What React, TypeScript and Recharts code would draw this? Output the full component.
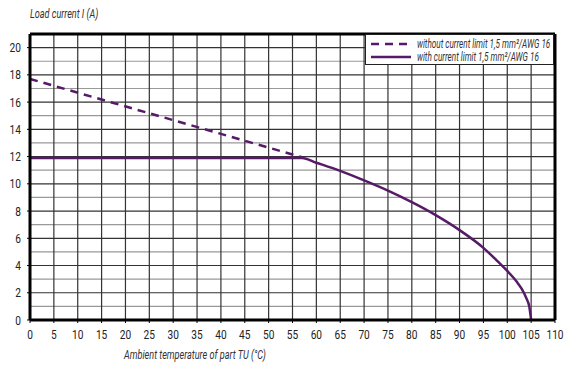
import { LineChart, Line, XAxis, YAxis, ReferenceLine } from 'recharts';

const temps = [0, 5, 10, 15, 20, 25, 30, 35, 40, 45, 50, 55, 57, 60, 65, 70, 75, 80, 85, 90, 95, 98, 100, 102, 103, 104, 104.6, 105];
const withLimit = [11.9, 11.9, 11.9, 11.9, 11.9, 11.9, 11.9, 11.9, 11.9, 11.9, 11.9, 11.9, 11.9, 11.55, 10.95, 10.25, 9.5, 8.65, 7.7, 6.6, 5.3, 4.3, 3.6, 2.8, 2.3, 1.6, 1.0, 0];
// dashed line only runs up to the knee
const withoutLimit: Record<number, number> = { 0: 17.7, 57: 11.95 };

const xTicks = [0, 5, 10, 15, 20, 25, 30, 35, 40, 45, 50, 55, 60, 65, 70, 75, 80, 85, 90, 95, 100, 105, 110];
const yTicks = [0, 2, 4, 6, 8, 10, 12, 14, 16, 18, 20];
const yGrid = Array.from({ length: 20 }, (_, i) => i + 1);
const xGrid = xTicks.slice(1, -1);

const LEGEND_ITEMS = [
  { label: 'without current limit 1,5 mm²/AWG 16', dashed: true },
  { label: 'with current limit 1,5 mm²/AWG 16', dashed: false },
];

const PURPLE = '#561a66';
const FONT = 'Roboto, "Liberation Sans", sans-serif';
const SQUEEZE = 0.78;

// narrow the tick text a bit, the original uses a condensed face
function XTick({ x, y, payload }: any) {
  return (
    <g transform={`translate(${x},${y + 14})`}>
      <text transform={`scale(${SQUEEZE},1)`} textAnchor="middle" fill="#222" fontSize={13} fontFamily={FONT}>
        {payload.value}
      </text>
    </g>
  );
}

function YTick({ x, y, payload }: any) {
  return (
    <g transform={`translate(${x - 4},${y + 4.5})`}>
      <text transform={`scale(${SQUEEZE},1)`} textAnchor="end" fill="#222" fontSize={13} fontFamily={FONT}>
        {payload.value}
      </text>
    </g>
  );
}

const data = temps.map((t, i) => ({
  t,
  limited: withLimit[i],
  unlimited: withoutLimit[t] ?? null,
}));

const italic = (sx: number) => ({
  fontFamily: FONT, fontStyle: 'italic', color: '#333', whiteSpace: 'nowrap', flex: 'none',
  display: 'inline-block', transform: `scaleX(${sx})`, transformOrigin: 'left center',
} as const);

export default function App() {
  return (
    <div style={{ position: 'relative', width: 573, height: 375, background: '#fff' }}>
      <style>{'body{margin:0}'}</style>
      <LineChart width={573} height={375} data={data} margin={{ top: 34, right: 18, bottom: 30, left: 0 }}>
        {yGrid.map((v) => (
          <ReferenceLine key={'h' + v} y={v} stroke={v % 2 === 0 ? '#333' : '#999'} strokeWidth={1.2} />
        ))}
        {xGrid.map((v) => (
          <ReferenceLine key={'v' + v} x={v} stroke="#333" strokeWidth={1.2} />
        ))}
        <ReferenceLine y={21} stroke="#000" strokeWidth={3} />
        <ReferenceLine x={110} stroke="#000" strokeWidth={3} />
        <XAxis dataKey="t" type="number" domain={[0, 110]} ticks={xTicks} interval={0} tick={<XTick />} height={25}
          axisLine={{ stroke: '#000', strokeWidth: 3 }} tickLine={{ stroke: '#000' }} tickSize={3} />
        <YAxis type="number" domain={[0, 21]} ticks={yTicks} interval={0} width={30} tick={<YTick />}
          axisLine={{ stroke: '#000', strokeWidth: 3 }} tickLine={{ stroke: '#000' }} tickSize={3} />
        <Line dataKey="unlimited" stroke={PURPLE} strokeWidth={2.5} strokeDasharray="8 6" dot={false} connectNulls isAnimationActive={false} />
        <Line dataKey="limited" type="monotone" stroke={PURPLE} strokeWidth={2.5} dot={false} isAnimationActive={false} />
      </LineChart>
      <div style={{ position: 'absolute', left: 365, top: 34, width: 189, height: 31, boxSizing: 'border-box', background: '#fff', border: '1px solid #222', padding: '2px 0', fontSize: 12 }}>
        {LEGEND_ITEMS.map((it) => (
          <div key={it.label} style={{ display: 'flex', alignItems: 'center', height: 13, overflow: 'visible' }}>
            <svg width={40} height={6} style={{ marginLeft: 5, marginRight: 6, flex: 'none' }}>
              <line x1={0} y1={3} x2={40} y2={3} stroke={PURPLE} strokeWidth={2.5} strokeDasharray={it.dashed ? '8 6' : undefined} />
            </svg>
            <span style={italic(0.68)}>{it.label}</span>
          </div>
        ))}
      </div>
      <div style={{ position: 'absolute', left: 30, top: 6, fontSize: 13 }}>
        <span style={italic(0.7)}>Load current I (A)</span>
      </div>
      <div style={{ position: 'absolute', left: 124, top: 347, fontSize: 13 }}>
        <span style={italic(0.7)}>Ambient temperature of part TU (°C)</span>
      </div>
    </div>
  );
}
